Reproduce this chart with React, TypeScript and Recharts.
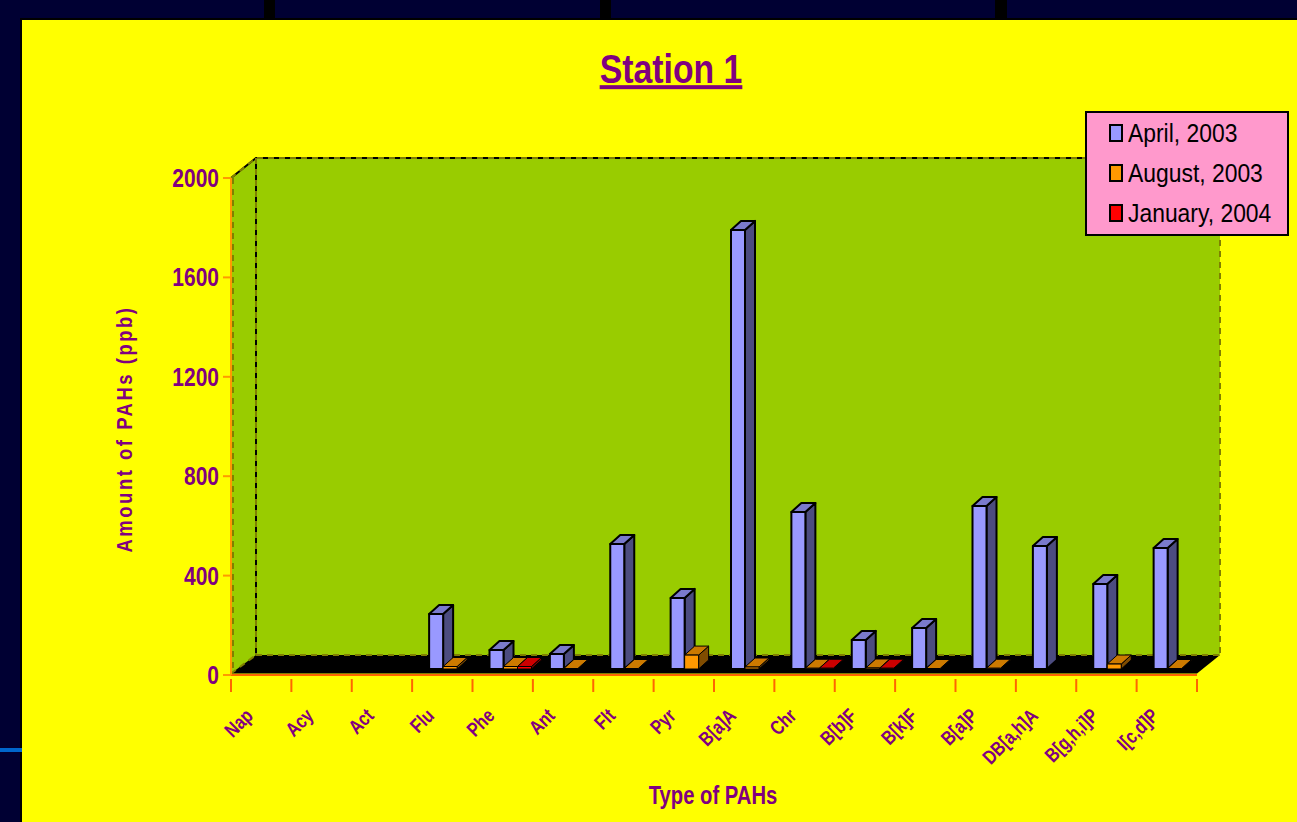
import { BarChart, Bar, XAxis, YAxis, Legend } from "recharts";

const categories = ["Nap", "Acy", "Act", "Flu", "Phe", "Ant", "Flt", "Pyr", "B[a]A", "Chr", "B[b]F", "B[k]F", "B[a]P", "DB[a,h]A", "B[g,h,i]P", "I[c,d]P"];
const april = [null, null, null, 221, 76, 60, 503, 286, 1767, 632, 117, 165, 656, 495, 342, 487];
const august = [null, null, null, 10, 10, 2, 2, 56, 8, 3, 4, 2, 3, null, 20, 2];
const january = [null, null, null, null, 10, null, null, null, null, 3, 3, null, null, null, null, null];
const yTicks = [0, 400, 800, 1200, 1600, 2000];

const seriesNames = ["April, 2003", "August, 2003", "January, 2004"];
const seriesColors = ["#9999ff", "#ff9900", "#ff0000"];
const topColors = ["#7a7acc", "#cc7a00", "#cc0000"];
const sideColors = ["#4c4c80", "#804c00", "#800000"];

const data = categories.map((name, i) => ({
  name,
  april: april[i],
  august: august[i],
  january: january[i],
}));

const FONT = '"Liberation Sans", sans-serif';
const PURPLE = "#800080";

// plot frame of the front plane, the back wall sits up and to the right of it
const LEFT = 231;
const RIGHT = 1197;
const TOP = 178;
const BOTTOM = 675;
const DEPTH_X = 24;
const DEPTH_Y = 20;
const BAND = (RIGHT - LEFT) / categories.length;

function makeBar3D(index: number) {
  return function Bar3D(props: any) {
    const { x, y, width, height } = props;
    if (height == null || width == null) return null;
    // bars stand in the middle of the floor, not on the front edge
    const fx = x + 8;
    const fy = y - 6;
    const dx = 10;
    const dy = 9;
    const r = fx + width;
    const b = fy + height;
    // the short series are nearly flat, a heavy outline would swallow them
    const outline = { stroke: "#000", strokeWidth: index === 0 ? 2 : 1, strokeLinejoin: "round" as const };
    return (
      <g>
        <polygon
          points={`${r},${fy} ${r + dx},${fy - dy} ${r + dx},${b - dy} ${r},${b}`}
          fill={sideColors[index]}
          {...outline}
        />
        <polygon
          points={`${fx},${fy} ${fx + dx},${fy - dy} ${r + dx},${fy - dy} ${r},${fy}`}
          fill={topColors[index]}
          {...outline}
        />
        <rect x={fx} y={fy} width={width} height={height} fill={seriesColors[index]} {...outline} />
      </g>
    );
  };
}

function Walls() {
  const backL = LEFT + DEPTH_X + 1;
  const backR = RIGHT + DEPTH_X - 1;
  const backT = TOP - DEPTH_Y;
  const backB = BOTTOM - DEPTH_Y;
  const floorB = BOTTOM - 1.5;
  const dash = { stroke: "#808000", strokeWidth: 2, strokeDasharray: "6 5", fill: "none" };
  return (
    <g>
      <polygon points={`${backL},${backT} ${backR},${backT} ${backR},${backB} ${backL},${backB}`} fill="#99cc00" />
      <polygon points={`${LEFT},${TOP} ${backL},${backT} ${backL},${backB} ${LEFT},${BOTTOM}`} fill="#99cc00" />
      <polygon points={`${LEFT},${floorB} ${backL},${backB} ${backR},${backB} ${RIGHT},${floorB}`} fill="#000" />
      <polyline points={`${LEFT},${TOP} ${backL},${backT} ${backR},${backT}`} fill="none" stroke="#000" strokeWidth={2} />
      <line x1={backL} y1={backT} x2={backL} y2={backB} stroke="#000" strokeWidth={2} />
      <polyline points={`${LEFT},${TOP} ${backL},${backT} ${backR},${backT} ${backR},${backB}`} {...dash} />
      <line x1={backL} y1={backT} x2={backL} y2={backB} {...dash} />
      <line x1={LEFT + 2} y1={TOP} x2={LEFT + 2} y2={BOTTOM} {...dash} />
      <line x1={backL} y1={backB} x2={backR} y2={backB} {...dash} />
      <line x1={LEFT} y1={floorB} x2={backL} y2={backB} {...dash} />
    </g>
  );
}

// no narrow face is installed, so bold labels are squeezed horizontally
function NarrowText(props: any) {
  const { x, y, rotate = 0, squeeze, size, anchor = "middle", spacing, children } = props;
  return (
    <text
      transform={`translate(${x},${y}) rotate(${rotate}) scale(${squeeze},1)`}
      textAnchor={anchor}
      fill={PURPLE}
      fontFamily={FONT}
      fontWeight="bold"
      fontSize={size}
      letterSpacing={spacing}
    >
      {children}
    </text>
  );
}

function CategoryTick(props: any) {
  const { x, y, payload, index } = props;
  const edge = x - BAND / 2;
  const last = index === categories.length - 1;
  return (
    <g>
      <line x1={edge} y1={y - 4} x2={edge} y2={y + 9} stroke="#ff6600" strokeWidth={2} />
      {last && <line x1={edge + BAND} y1={y - 4} x2={edge + BAND} y2={y + 9} stroke="#ff6600" strokeWidth={2} />}
      <NarrowText x={x - 7} y={y + 34} rotate={-45} squeeze={0.8} size={20} anchor="end">
        {payload.value}
      </NarrowText>
    </g>
  );
}

function ValueTick(props: any) {
  const { x, y, payload } = props;
  return (
    <NarrowText x={x} y={y + 9} squeeze={0.84} size={25} anchor="end">
      {payload.value}
    </NarrowText>
  );
}

function LegendBox() {
  return (
    <div
      style={{
        width: 204,
        height: 125,
        boxSizing: "border-box",
        background: "#ff99cc",
        border: "2px solid #000",
        fontFamily: FONT,
        fontSize: 26,
        color: "#000",
      }}
    >
      {seriesNames.map((name, i) => (
        <div key={name} style={{ display: "flex", alignItems: "center", height: 40, paddingLeft: 22, whiteSpace: "pre" }}>
          <span
            style={{
              width: 10,
              height: 14,
              background: seriesColors[i],
              border: "2px solid #000",
              marginRight: 5,
              flex: "none",
            }}
          />
          <span style={{ display: "inline-block", transform: "scaleX(0.88)", transformOrigin: "left center" }}>{name}</span>
        </div>
      ))}
    </div>
  );
}

export default function App() {
  return (
    <div style={{ position: "absolute", left: 0, top: 0, width: 1297, height: 822, background: "#000033", overflow: "hidden" }}>
      {/* slide backdrop strips */}
      <div style={{ position: "absolute", left: 264, top: 0, width: 11, height: 18, background: "#000" }} />
      <div style={{ position: "absolute", left: 600, top: 0, width: 11, height: 18, background: "#000" }} />
      <div style={{ position: "absolute", left: 995, top: 0, width: 12, height: 18, background: "#000" }} />
      <div style={{ position: "absolute", left: 20, top: 18, width: 1277, height: 804, background: "#000" }} />
      <div style={{ position: "absolute", left: 0, top: 748, width: 22, height: 4, background: "#0066cc" }} />
      <div style={{ position: "absolute", left: 22, top: 20, width: 1275, height: 802, background: "#ffff00" }}>
        <div style={{ position: "absolute", left: -22, top: -20 }}>
          <BarChart
            width={1297}
            height={822}
            data={data}
            barSize={14}
            barGap={0}
            barCategoryGap={9}
            margin={{ top: TOP, right: 1297 - RIGHT, bottom: 822 - BOTTOM - 100, left: 0 }}
          >
            <Walls />
            <text
              transform="translate(671,83) scale(0.845,1)"
              textAnchor="middle"
              fill={PURPLE}
              fontFamily={FONT}
              fontWeight="bold"
              fontSize={40}
              textDecoration="underline"
            >
              Station 1
            </text>
            <NarrowText x={713} y={804} squeeze={0.81} size={25}>
              Type of PAHs
            </NarrowText>
            <NarrowText x={132} y={429} rotate={-90} squeeze={0.84} size={22} spacing={3}>
              Amount of PAHs (ppb)
            </NarrowText>
            <XAxis
              dataKey="name"
              interval={0}
              height={100}
              axisLine={{ stroke: "#ff6600", strokeWidth: 2 }}
              tickLine={false}
              tick={<CategoryTick />}
            />
            <YAxis
              domain={[0, 2000]}
              ticks={yTicks}
              width={LEFT}
              axisLine={{ stroke: "#ff9900", strokeWidth: 2 }}
              tickLine={{ stroke: "#ff9900", strokeWidth: 2 }}
              tickSize={8}
              tickMargin={4}
              interval={0}
              tick={<ValueTick />}
            />
            <Legend
              layout="vertical"
              align="center"
              verticalAlign="middle"
              wrapperStyle={{ left: 1085, top: 111, width: 204 }}
              content={<LegendBox />}
            />
            <Bar dataKey="april" isAnimationActive={false} shape={makeBar3D(0)} />
            <Bar dataKey="august" isAnimationActive={false} shape={makeBar3D(1)} />
            <Bar dataKey="january" isAnimationActive={false} shape={makeBar3D(2)} />
          </BarChart>
        </div>
      </div>
    </div>
  );
}
